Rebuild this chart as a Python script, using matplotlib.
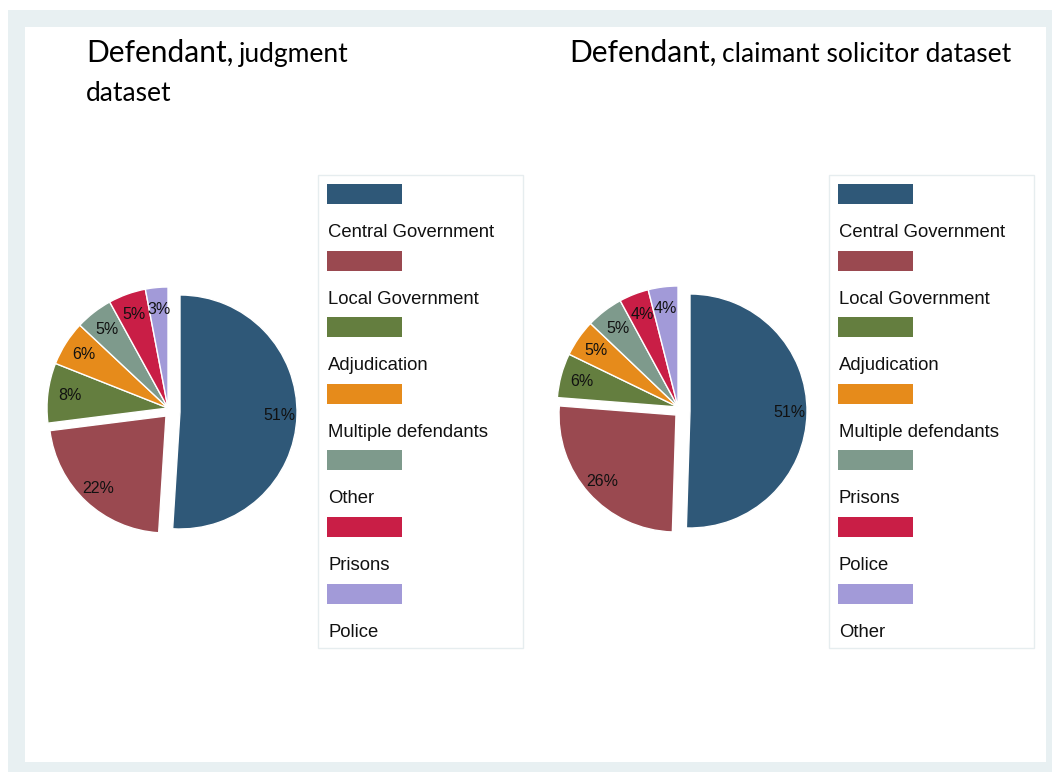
import matplotlib
matplotlib.use("Agg")
import matplotlib.pyplot as plt
from matplotlib.patches import Rectangle

# judgment dataset
left_labels = ["Central Government", "Local Government", "Adjudication",
               "Multiple defendants", "Other", "Prisons", "Police"]
left_values = [51, 22, 8, 6, 5, 5, 3]

# claimant solicitor dataset
right_labels = ["Central Government", "Local Government", "Adjudication",
                "Multiple defendants", "Prisons", "Police", "Other"]
right_values = [51, 26, 6, 5, 5, 4, 4]

colors = ["#2f5878", "#9a4950", "#647e3f", "#e68b1b",
          "#7e9a8c", "#c91e46", "#a29ad8"]

W, H = 1052, 772
fig = plt.figure(figsize=(W / 100, H / 100), dpi=100)
ax = fig.add_axes([0, 0, 1, 1])
ax.set_xlim(0, W)
ax.set_ylim(0, H)
ax.axis("off")

def Y(y):
    return H - y

# outer frame and white plot region
ax.add_patch(Rectangle((8, 0), W - 8, H - 10, facecolor="#e8f0f2",
                       edgecolor="none", zorder=0))
ax.add_patch(Rectangle((25, Y(762)), 1046 - 25, 762 - 27, facecolor="white",
                       edgecolor="none", zorder=0))

title_font = "Lato"
label_font = "Liberation Sans"


def title(x, rest, second=None):
    t = ax.text(x, Y(62), "Defendant,", fontsize=21.5, family=title_font,
                va="baseline", ha="left", zorder=3)
    ax.annotate(rest, xy=(1, Y(62)), xycoords=(t, "data"),
                xytext=(4, 0), textcoords="offset points",
                fontsize=19, family=title_font, va="baseline", ha="left")
    if second:
        ax.text(x, Y(101), second, fontsize=19, family=title_font,
                va="baseline", ha="left")


def pie(cx, cy, values):
    r = 121
    wedges, _, autotexts = ax.pie(
        values, colors=colors, startangle=90, counterclock=False,
        radius=r, center=(cx, Y(cy)),
        autopct="%d", pctdistance=0.82,
        wedgeprops=dict(edgecolor="white", linewidth=1),
        textprops=dict(fontsize=11.5, family=label_font, color="#111111"),
        frame=True)
    for t, v in zip(autotexts, values):
        t.set_text(f"{v}%")
    # pull the two largest slices out, drawn slightly smaller
    shifts = [(12, -4), (-2, -8)]
    for w, t, (dx, dy) in zip(wedges, autotexts, shifts):
        w.set_radius(117)
        w.set_center((cx + dx, Y(cy) + dy))
        tx, ty = t.get_position()
        t.set_position((tx + dx, ty + dy))
    ax.set_xlim(0, W)
    ax.set_ylim(0, H)
    ax.set_aspect("auto")


def legend(x0, labels):
    ax.add_patch(Rectangle((x0, Y(648)), 205, 648 - 175, facecolor="white",
                           edgecolor="#e6edef", linewidth=1, zorder=1))
    step = 66.6
    for i, (lab, c) in enumerate(zip(labels, colors)):
        top = 184 + i * step
        ax.add_patch(Rectangle((x0 + 9, Y(top + 20)), 75, 20, facecolor=c,
                               edgecolor="none", zorder=2))
        ax.text(x0 + 10, Y(top + 48.5), lab, fontsize=13.3, family=label_font,
                va="center", ha="left", color="#111111", zorder=2)


title(86, "judgment", "dataset")
title(569, "claimant solicitor dataset")
pie(168, 408, left_values)
pie(678, 407, right_values)
legend(318, left_labels)
legend(829, right_labels)
ax.axis("off")

fig.savefig("out.png", dpi=100)
